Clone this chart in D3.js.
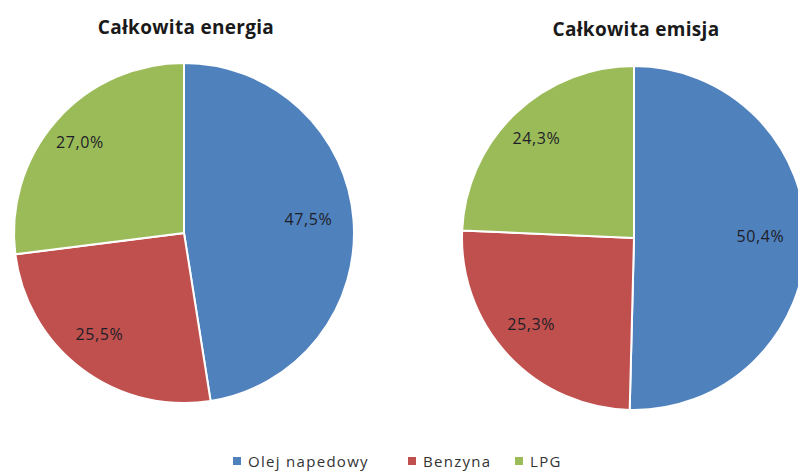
<!DOCTYPE html>
<html>
<head>
<meta charset="utf-8">
<script src="https://cdn.jsdelivr.net/npm/d3@7"></script>
<style>
  html, body { margin: 0; padding: 0; background: #fff; }
  svg { display: block; }
  text { font-family: "Open Sans", "Liberation Sans", sans-serif; }
</style>
</head>
<body>
<svg id="chart" width="798" height="472"></svg>
<script>
// Fuel categories and their colours
const categories = ["Olej napedowy", "Benzyna", "LPG"];
const colors = ["#4F81BD", "#C0504D", "#9BBB59"];

// Share of total energy and total emission (%)
const energyValues = [47.5, 25.5, 27.0];
const emissionValues = [50.4, 25.3, 24.3];

const chartTitles = ["Całkowita energia", "Całkowita emisja"];

const svg = d3.select("#chart");
const color = d3.scaleOrdinal().domain(categories).range(colors);
const fmt = v => v.toFixed(1).replace(".", ",") + "%";

const pies = [
  { title: chartTitles[0], values: energyValues, cx: 184, cy: 233, r: 170, ty: 27 },
  { title: chartTitles[1], values: emissionValues, cx: 634, cy: 238, r: 172, ty: 29 }
];

const pie = d3.pie().sort(null).value(d => d.value);

pies.forEach(p => {
  const data = categories.map((c, i) => ({ category: c, value: p.values[i] }));
  const arcs = pie(data);
  const arc = d3.arc().innerRadius(0).outerRadius(p.r);
  const labelArc = d3.arc().innerRadius(p.r * 0.77).outerRadius(p.r * 0.77);

  svg.append("text")
    .attr("x", p.cx + 2)
    .attr("y", p.ty)
    .attr("text-anchor", "middle")
    .attr("dominant-baseline", "central")
    .attr("font-size", 19)
    .attr("font-weight", "bold")
    .attr("letter-spacing", 0.3)
    .attr("fill", "#1a1a1a")
    .text(p.title);

  const g = svg.append("g").attr("transform", `translate(${p.cx},${p.cy})`);

  g.selectAll("path")
    .data(arcs)
    .join("path")
    .attr("d", arc)
    .attr("fill", d => color(d.data.category))
    .attr("stroke", "#fff")
    .attr("stroke-width", 2);

  g.selectAll("text")
    .data(arcs)
    .join("text")
    .attr("transform", d => {
      const [x, y] = labelArc.centroid(d);
      return `translate(${x - 6},${y - 4})`;
    })
    .attr("text-anchor", "middle")
    .attr("dominant-baseline", "central")
    .attr("font-size", 16)
    .attr("letter-spacing", 0.6)
    .attr("fill", "#1e1e28")
    .text(d => fmt(d.data.value));
});

// Legend along the bottom
const legendX = [233, 408, 515];
const legend = svg.append("g");
categories.forEach((c, i) => {
  legend.append("rect")
    .attr("x", legendX[i])
    .attr("y", 457)
    .attr("width", 8)
    .attr("height", 8)
    .attr("fill", color(c));
  legend.append("text")
    .attr("x", legendX[i] + 15)
    .attr("y", 461)
    .attr("dominant-baseline", "central")
    .attr("font-size", 15)
    .attr("letter-spacing", 1.3)
    .attr("fill", "#333")
    .text(c);
});
</script>
</body>
</html>
